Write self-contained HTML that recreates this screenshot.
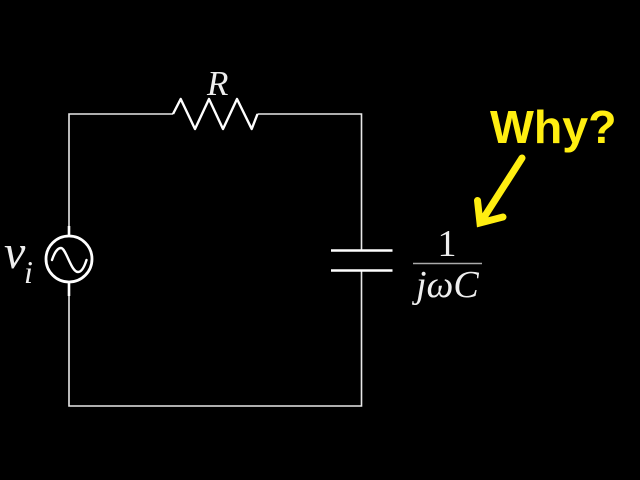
<!DOCTYPE html>
<html>
<head>
<meta charset="utf-8">
<style>
html,body{margin:0;padding:0;background:#000;width:640px;height:480px;overflow:hidden}
svg{display:block}
</style>
</head>
<body>
<svg width="640" height="480" viewBox="0 0 640 480" xmlns="http://www.w3.org/2000/svg">
<rect width="640" height="480" fill="#000"/>
<g fill="none" stroke="#e8e8e8" stroke-width="1.600">
<path d="M69 236V114H173M257.500 114H361.500V250M361.500 270V406H69V282"/>
</g>
<path d="M69 226V236M69 282V296" fill="none" stroke="#fff" stroke-width="2.600"/>
<path d="M173 114L180.700 99L195 129L209 99L223 129L237 99L251.700 129L257.500 114" fill="none" stroke="#fff" stroke-width="2.400" stroke-linejoin="round"/>
<circle cx="69" cy="259" r="23" fill="none" stroke="#fff" stroke-width="2.800"/>
<path d="M52 260C55 251 58 248 61 248C66 248 71 272 78 272C81 272 84 268 86.500 260" fill="none" stroke="#fff" stroke-width="2.400" stroke-linecap="round"/>
<path d="M331 250.500H392.500M331 270.500H392.500" stroke="#fff" stroke-width="2.600" fill="none"/>
<path d="M413 263.500H482" stroke="#aaa" stroke-width="1.600"/>
<g font-family="'Liberation Serif',serif" fill="#eee">
<text x="4" y="268" font-size="48" font-style="italic">v</text>
<text x="24" y="283" font-size="32" font-style="italic">i</text>
<text x="207" y="95" font-size="35" font-style="italic">R</text>
<text x="447" y="256" font-size="38" text-anchor="middle">1</text>
<text x="416" y="297" font-size="38" font-style="italic">jωC</text>
</g>
<text x="490" y="143" font-family="'Liberation Sans',sans-serif" font-weight="700" font-size="46.500" fill="#ffee11">Why?</text>
<path d="M522 158L481 222M477.500 200.500L480 223L503 217" fill="none" stroke="#ffee11" stroke-width="7" stroke-linecap="round" stroke-linejoin="miter"/>
</svg>
</body>
</html>
